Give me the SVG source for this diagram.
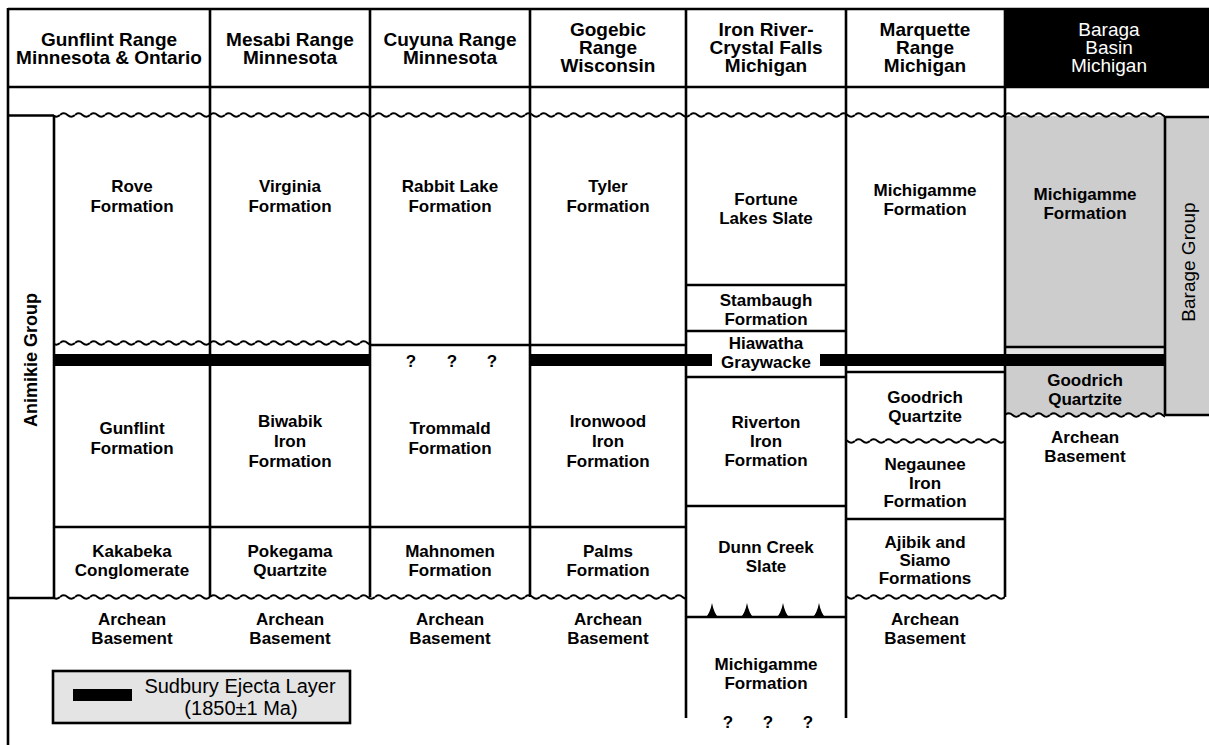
<svg xmlns="http://www.w3.org/2000/svg" width="1209" height="745" viewBox="0 0 1209 745">
<style>
.ln{stroke:#000;stroke-width:2.6;fill:none}
.h{font-family:"Liberation Sans",Arial,sans-serif;font-weight:bold;font-size:19px;text-anchor:middle;fill:#000}
.hw{font-family:"Liberation Sans",Arial,sans-serif;font-size:19px;text-anchor:middle;fill:#fff}
.t{font-family:"Liberation Sans",Arial,sans-serif;font-weight:bold;font-size:17px;text-anchor:middle;fill:#000}
.lg{font-family:"Liberation Sans",Arial,sans-serif;font-size:20px;text-anchor:middle;fill:#000}
.gray{fill:#cdcdcd}
.bar{fill:#000}
</style>
<defs>
<pattern id="wave" patternUnits="userSpaceOnUse" x="0" y="-4" width="15" height="8">
<path d="M0 0 Q3.75 -3.4 7.5 0 T15 0" transform="translate(0,4)" fill="none" stroke="#000" stroke-width="2"/>
</pattern>
<path id="spike" d="M-6 0 Q-2 -4 0 -14 Q2 -4 6 0 Z" fill="#000"/>
</defs>
<rect width="1209" height="745" fill="#fff"/>

<g id="baraga-fills">
<rect x="1005" y="9" width="204" height="78" fill="#000"/>
<rect class="gray" x="1005" y="116" width="160" height="231"/>
<rect x="1005" y="347" width="160" height="8" fill="#e4e4e4"/>
<rect class="gray" x="1005" y="366" width="160" height="49"/>
<rect class="gray" x="1165" y="117" width="44" height="298"/>
</g>

<g id="connectors">
<line class="ln" x1="8" y1="9" x2="1209" y2="9"/>
<line class="ln" x1="8" y1="87" x2="1209" y2="87"/>
<line class="ln" x1="8" y1="8" x2="8" y2="745"/>
<line class="ln" x1="210" y1="9" x2="210" y2="597"/>
<line class="ln" x1="370" y1="9" x2="370" y2="597"/>
<line class="ln" x1="530" y1="9" x2="530" y2="597"/>
<line class="ln" x1="686" y1="9" x2="686" y2="718"/>
<line class="ln" x1="846" y1="9" x2="846" y2="718"/>
<line class="ln" x1="1005" y1="9" x2="1005" y2="597"/>
<line class="ln" x1="8" y1="115.5" x2="54" y2="115.5"/>
<line class="ln" x1="54" y1="115" x2="54" y2="598"/>
<line class="ln" x1="8" y1="598" x2="54" y2="598"/>
<line class="ln" x1="1165" y1="117" x2="1209" y2="117"/>
<line class="ln" x1="1165" y1="117" x2="1165" y2="415"/>
<line class="ln" x1="1165" y1="415" x2="1209" y2="415"/>
<rect x="54" y="-4" width="1111" height="8" fill="url(#wave)" transform="translate(0,115)"/>
<rect x="54" y="-4" width="316" height="8" fill="url(#wave)" transform="translate(0,343)"/>
<rect x="54" y="-4" width="632" height="8" fill="url(#wave)" transform="translate(0,597)"/>
<rect x="846" y="-4" width="159" height="8" fill="url(#wave)" transform="translate(0,597)"/>
<rect x="846" y="-4" width="159" height="8" fill="url(#wave)" transform="translate(0,441)"/>
<rect x="1005" y="-4" width="160" height="8" fill="url(#wave)" transform="translate(0,415)"/>
<line class="ln" x1="370" y1="345" x2="686" y2="345"/>
<line class="ln" x1="54" y1="527" x2="686" y2="527"/>
<line class="ln" x1="686" y1="285" x2="846" y2="285"/>
<line class="ln" x1="686" y1="331" x2="846" y2="331"/>
<line class="ln" x1="686" y1="377" x2="846" y2="377"/>
<line class="ln" x1="686" y1="506" x2="846" y2="506"/>
<line class="ln" x1="686" y1="617" x2="846" y2="617"/>
<line class="ln" x1="846" y1="372" x2="1005" y2="372"/>
<line class="ln" x1="846" y1="519" x2="1005" y2="519"/>
<line class="ln" x1="1005" y1="347" x2="1165" y2="347"/>
<use href="#spike" x="712" y="617"/>
<use href="#spike" x="747" y="617"/>
<use href="#spike" x="783" y="617"/>
<use href="#spike" x="819" y="617"/>
<rect class="bar" x="54" y="354" width="316" height="12"/>
<rect class="bar" x="530" y="354" width="182" height="12"/>
<rect class="bar" x="820" y="354" width="345" height="12"/>
</g>

<g id="header">
<text class="h" x="109" y="46">Gunflint Range<tspan x="109" dy="18">Minnesota &amp; Ontario</tspan></text>
<text class="h" x="290" y="46">Mesabi Range<tspan x="290" dy="18">Minnesota</tspan></text>
<text class="h" x="450" y="46">Cuyuna Range<tspan x="450" dy="18">Minnesota</tspan></text>
<text class="h" x="608" y="36">Gogebic<tspan x="608" dy="18">Range</tspan><tspan x="608" dy="18">Wisconsin</tspan></text>
<text class="h" x="766" y="36">Iron River-<tspan x="766" dy="18">Crystal Falls</tspan><tspan x="766" dy="18">Michigan</tspan></text>
<text class="h" x="925" y="36">Marquette<tspan x="925" dy="18">Range</tspan><tspan x="925" dy="18">Michigan</tspan></text>
<text class="hw" x="1109" y="36">Baraga<tspan x="1109" dy="18">Basin</tspan><tspan x="1109" dy="18">Michigan</tspan></text>
</g>

<g id="animikie-group">
<text class="t" transform="translate(37,360) rotate(-90)" style="font-size:18px">Animikie Group</text>
</g>

<g id="gunflint">
<text class="t" x="132" y="192">Rove<tspan x="132" dy="20">Formation</tspan></text>
<text class="t" x="132" y="434">Gunflint<tspan x="132" dy="20">Formation</tspan></text>
<text class="t" x="132" y="557">Kakabeka<tspan x="132" dy="19">Conglomerate</tspan></text>
<text class="t" x="132" y="625">Archean<tspan x="132" dy="19">Basement</tspan></text>
</g>

<g id="mesabi">
<text class="t" x="290" y="192">Virginia<tspan x="290" dy="20">Formation</tspan></text>
<text class="t" x="290" y="427">Biwabik<tspan x="290" dy="20">Iron</tspan><tspan x="290" dy="20">Formation</tspan></text>
<text class="t" x="290" y="557">Pokegama<tspan x="290" dy="19">Quartzite</tspan></text>
<text class="t" x="290" y="625">Archean<tspan x="290" dy="19">Basement</tspan></text>
</g>

<g id="cuyuna">
<text class="t" x="450" y="192">Rabbit Lake<tspan x="450" dy="20">Formation</tspan></text>
<text class="t" x="411" y="367">?</text>
<text class="t" x="452" y="367">?</text>
<text class="t" x="492" y="367">?</text>
<text class="t" x="450" y="434">Trommald<tspan x="450" dy="20">Formation</tspan></text>
<text class="t" x="450" y="557">Mahnomen<tspan x="450" dy="19">Formation</tspan></text>
<text class="t" x="450" y="625">Archean<tspan x="450" dy="19">Basement</tspan></text>
</g>

<g id="gogebic">
<text class="t" x="608" y="192">Tyler<tspan x="608" dy="20">Formation</tspan></text>
<text class="t" x="608" y="427">Ironwood<tspan x="608" dy="20">Iron</tspan><tspan x="608" dy="20">Formation</tspan></text>
<text class="t" x="608" y="557">Palms<tspan x="608" dy="19">Formation</tspan></text>
<text class="t" x="608" y="625">Archean<tspan x="608" dy="19">Basement</tspan></text>
</g>

<g id="iron-river">
<text class="t" x="766" y="205">Fortune<tspan x="766" dy="19">Lakes Slate</tspan></text>
<text class="t" x="766" y="306">Stambaugh<tspan x="766" dy="19">Formation</tspan></text>
<text class="t" x="766" y="349">Hiawatha<tspan x="766" dy="19">Graywacke</tspan></text>
<text class="t" x="766" y="428">Riverton<tspan x="766" dy="19">Iron</tspan><tspan x="766" dy="19">Formation</tspan></text>
<text class="t" x="766" y="553">Dunn Creek<tspan x="766" dy="19">Slate</tspan></text>
<text class="t" x="766" y="670">Michigamme<tspan x="766" dy="19">Formation</tspan></text>
<text class="t" x="728" y="728">?</text>
<text class="t" x="768" y="728">?</text>
<text class="t" x="808" y="728">?</text>
</g>

<g id="marquette">
<text class="t" x="925" y="196">Michigamme<tspan x="925" dy="19">Formation</tspan></text>
<text class="t" x="925" y="403">Goodrich<tspan x="925" dy="19">Quartzite</tspan></text>
<text class="t" x="925" y="470">Negaunee<tspan x="925" dy="18.5">Iron</tspan><tspan x="925" dy="18.5">Formation</tspan></text>
<text class="t" x="925" y="548">Ajibik and<tspan x="925" dy="18">Siamo</tspan><tspan x="925" dy="18">Formations</tspan></text>
<text class="t" x="925" y="625">Archean<tspan x="925" dy="19">Basement</tspan></text>
</g>

<g id="baraga">
<text class="t" x="1085" y="200">Michigamme<tspan x="1085" dy="19">Formation</tspan></text>
<text class="t" x="1085" y="386">Goodrich<tspan x="1085" dy="19">Quartzite</tspan></text>
<text class="t" x="1085" y="443">Archean<tspan x="1085" dy="19">Basement</tspan></text>
<text class="lg" transform="translate(1195,262) rotate(-90)" style="font-size:19px">Barage Group</text>
</g>

<g id="legend">
<rect x="53" y="671" width="297" height="52" fill="#e4e4e4" stroke="#000" stroke-width="2.6"/>
<rect class="bar" x="73" y="689" width="59" height="12"/>
<text class="lg" x="240" y="693">Sudbury Ejecta Layer<tspan x="241" dy="22">(1850±1 Ma)</tspan></text>
</g>
</svg>
